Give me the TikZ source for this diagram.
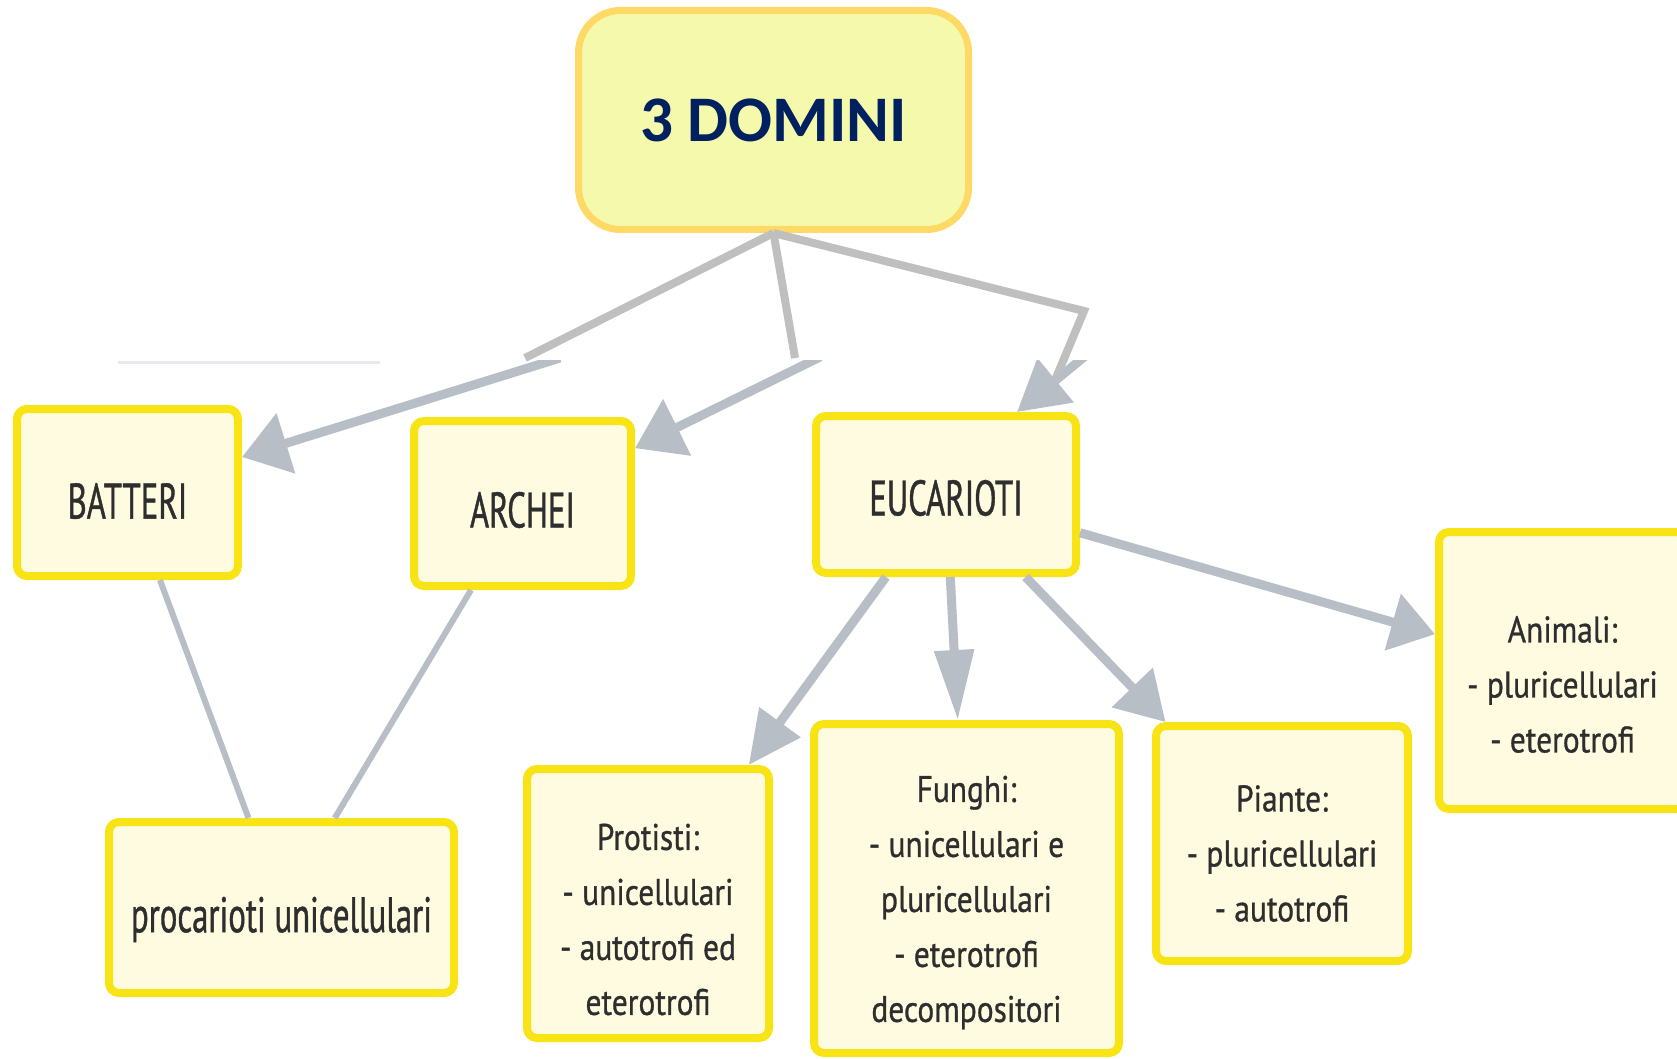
\documentclass[tikz,border=0pt]{standalone}
\usepackage{fontspec}
\usetikzlibrary{arrows.meta}
\newfontfamily\topfont{PT Sans}[FakeStretch=0.655,FakeBold=0.8]
\newfontfamily\lowfont{PT Sans}[FakeStretch=0.85,FakeBold=0.8]
\newfontfamily\domfont{Carlito}
\definecolor{boxfill}{HTML}{FFFBE0}
\definecolor{boxline}{HTML}{F8E414}
\definecolor{domfill}{HTML}{F4F9AC}
\definecolor{domline}{HTML}{FFD966}
\definecolor{domtext}{HTML}{002060}
\definecolor{overlay}{HTML}{BFBFBF}
\definecolor{arrowgray}{HTML}{B8BEC6}
\definecolor{txt}{HTML}{2E2E2E}
\definecolor{faint}{HTML}{E4EAEF}
\begin{document}
\begin{tikzpicture}[x=1pt,y=-1pt,
  cbox/.style={draw=boxline, fill=boxfill, line width=8pt, rounded corners=10pt, inner sep=0pt},
  toplab/.style={font=\topfont\fontsize{50}{60}\selectfont, text=txt},
  lowlab/.style={font=\lowfont\fontsize{37}{55}\selectfont, text=txt, align=center},
  conn/.style={draw=arrowgray, line width=9pt},
  plainconn/.style={draw=arrowgray, line width=6pt},
  ovl/.style={draw=overlay, line width=8pt}
]
\useasboundingbox[fill=white] (0,0) rectangle (1677,1059);

% top node
\node[draw=domline, fill=domfill, line width=7pt, rounded corners=42pt, inner sep=0pt,
      minimum width=390pt, minimum height=219pt,
      font=\domfont\bfseries\fontsize{65}{78}\selectfont, text=domtext]
      (dom) at (773.5,120) {3 DOMINI};

% boxes
\node[cbox, minimum width=221pt, minimum height=167pt,
      label={[toplab, yshift=-8.5pt]center:BATTERI}] (bat) at (127.5,492.5) {};
\node[cbox, minimum width=217pt, minimum height=165pt,
      label={[toplab, yshift=-6.5pt]center:ARCHEI}] (arc) at (522.5,503.5) {};
\node[cbox, minimum width=260pt, minimum height=157pt,
      label={[toplab, yshift=-3.5pt]center:EUCARIOTI}] (euc) at (946,494.5) {};
\node[cbox, minimum width=345pt, minimum height=171pt,
      label={[toplab, yshift=-12pt]center:procarioti unicellulari}] (proc) at (281.5,907.5) {};
\node[cbox, minimum width=242pt, minimum height=269pt,
      label={[lowlab, yshift=-16pt]center:{Protisti:\\- unicellulari\\- autotrofi ed\\eterotrofi}}] (prot) at (648,903.5) {};
\node[cbox, minimum width=305pt, minimum height=329pt,
      label={[lowlab, yshift=-14pt]center:{Funghi:\\- unicellulari e\\pluricellulari\\- eterotrofi\\decompositori}}] (fun) at (966.5,888.5) {};
\node[cbox, minimum width=252pt, minimum height=235pt,
      label={[lowlab, yshift=-10pt]center:{Piante:\\- pluricellulari\\- autotrofi}}] (pia) at (1282,843.5) {};
\node[cbox, minimum width=247pt, minimum height=277pt,
      label={[lowlab, yshift=-14pt]center:{Animali:\\- pluricellulari\\- eterotrofi}}] (ani) at (1562.5,670.5) {};

% faint edge line
\draw[faint, line width=3pt] (118,362) -- (380,362);

% overlay thick lines
\coordinate (o1) at (525,358);
\coordinate (o2) at (795,358);
\coordinate (o3a) at (1084,311);
\coordinate (o3b) at (1053,385);
\draw[ovl] (dom.south) -- (o1);
\draw[ovl] (dom.south) -- (o2);
\draw[ovl, line join=miter] (dom.south) -- (o3a) -- (o3b);

% arrows from top (clipped at original picture edge)
\coordinate (t1) at (560,358);
\coordinate (t2) at (820,357);
\coordinate (t3) at (1095,348);
\begin{scope}
\clip (0,360) rectangle (1677,1059);
\draw[conn, -{Triangle[length=46pt,width=61pt]}] (t1) -- (bat);
\draw[conn, -{Triangle[length=47pt,width=61pt]}] (t2) -- (arc);
\draw[conn, -{Triangle[length=50pt,width=55pt]}] (t3) -- ([xshift=71pt]euc.north);
\end{scope}

% arrows from EUCARIOTI
\draw[conn, -{Triangle[length=53pt,width=49pt]}] (euc) -- (prot);
\draw[conn, -{Triangle[length=70pt,width=38pt]}] (euc) -- (fun);
\draw[conn, -{Triangle[length=48pt,width=55pt]}] (euc) -- (pia);
\draw[conn, -{Triangle[length=44pt,width=57pt]}] (euc) -- (ani);

% plain lines to procarioti
\draw[plainconn] (bat) -- (proc);
\draw[plainconn] (arc) -- (proc);
\end{tikzpicture}
\end{document}
